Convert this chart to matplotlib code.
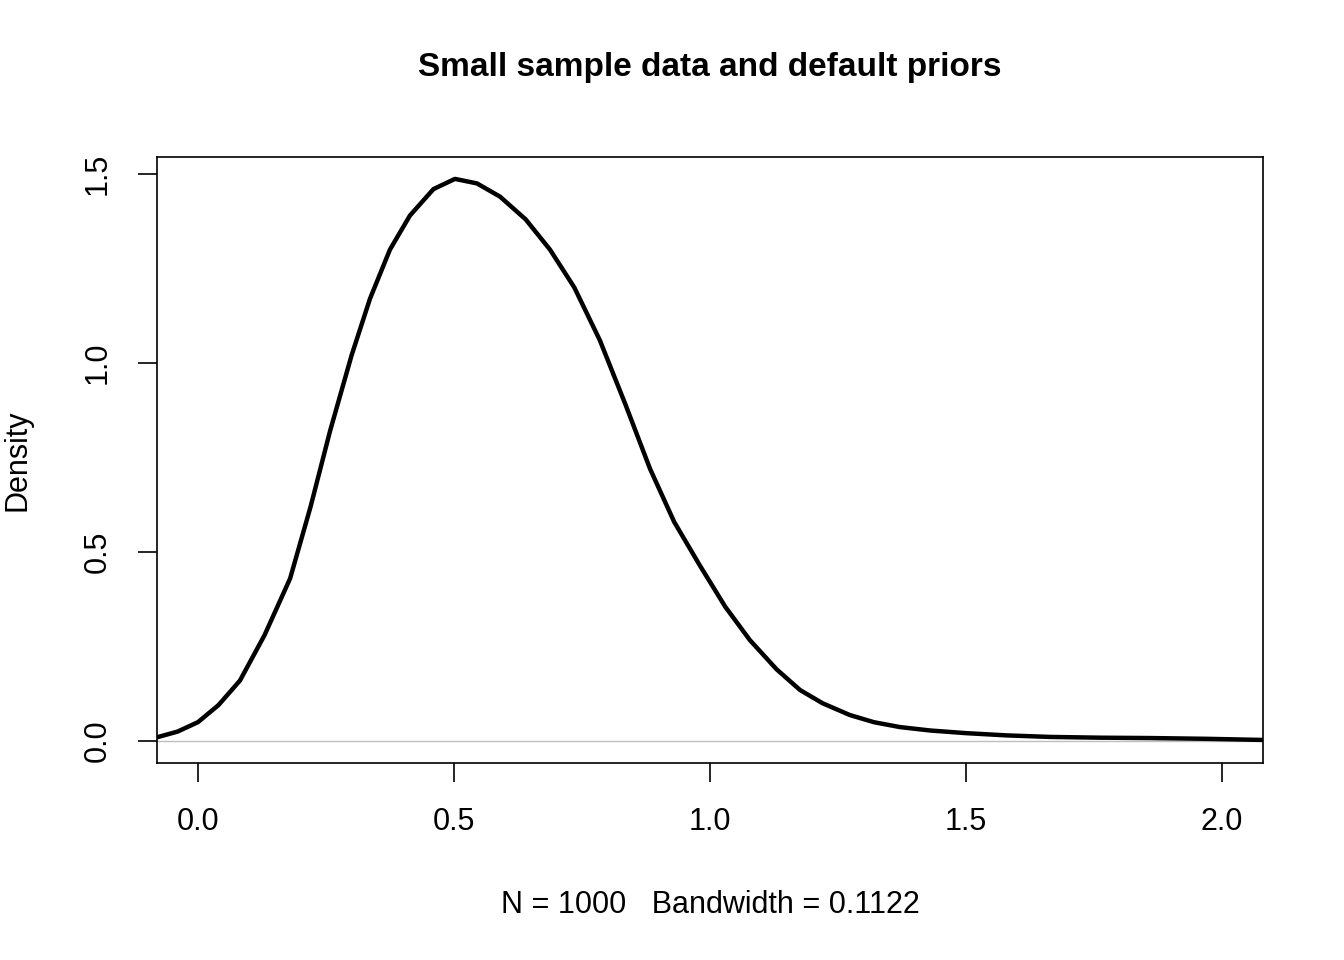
import matplotlib.pyplot as plt

plt.rcParams['font.family'] = ['Liberation Sans', 'DejaVu Sans']

# density values
xs = [-0.08, -0.04, 0.0, 0.04, 0.082, 0.13, 0.18, 0.22, 0.258, 0.30, 0.336, 0.375, 0.414, 0.46, 0.502,
      0.545, 0.59, 0.64, 0.6875, 0.735, 0.785, 0.835, 0.883, 0.93, 0.98, 1.03, 1.078, 1.13, 1.176, 1.22,
      1.273, 1.32, 1.371, 1.43, 1.5, 1.58, 1.664, 1.76, 1.86, 1.97, 2.08]
ys = [0.01, 0.025, 0.05, 0.095, 0.16, 0.28, 0.43, 0.62, 0.82, 1.02, 1.17, 1.30, 1.39, 1.46, 1.487,
      1.475, 1.44, 1.38, 1.30, 1.20, 1.06, 0.89, 0.72, 0.58, 0.465, 0.355, 0.267, 0.19, 0.135, 0.10,
      0.069, 0.05, 0.037, 0.028, 0.021, 0.015, 0.011, 0.009, 0.008, 0.006, 0.003]

fig = plt.figure(figsize=(13.44, 9.6), dpi=100)
ax = fig.add_axes([0.1168, 0.2052, 0.8229, 0.6313])
ax.axhline(0, color='#bebebe', lw=1)
ax.plot(xs, ys, color='black', lw=3.2, solid_joinstyle='round')
ax.set_xlim(-0.08, 2.08)
ax.set_ylim(-0.058, 1.545)
ax.set_xticks([0, 0.5, 1.0, 1.5, 2.0])
ax.set_xticklabels(['0.0', '0.5', '1.0', '1.5', '2.0'])
ax.set_yticks([0, 0.5, 1.0, 1.5])
ax.set_yticklabels(['0.0', '0.5', '1.0', '1.5'], rotation=90, va='center')
ax.tick_params(labelsize=22, length=14, width=1.2, pad=18)
for s in ax.spines.values():
    s.set_linewidth(1.2)
ax.set_title('Small sample data and default priors', fontsize=24, fontweight='bold', pad=58)
ax.set_xlabel('N = 1000   Bandwidth = 0.1122', fontsize=22, labelpad=38)
ax.set_ylabel('Density', fontsize=22, labelpad=36)
fig.savefig('out.png', dpi=100)
